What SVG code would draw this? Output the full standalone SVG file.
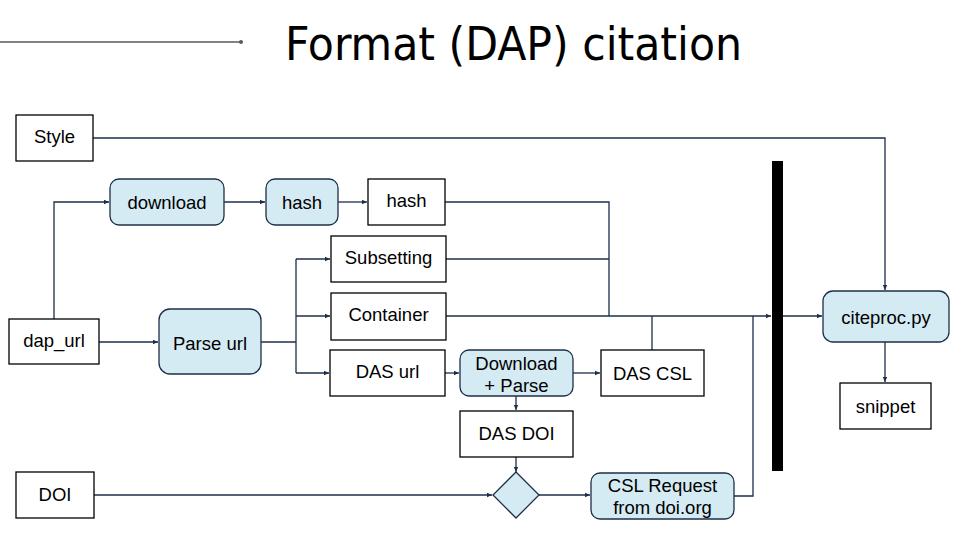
<svg xmlns="http://www.w3.org/2000/svg" width="960" height="540" viewBox="0 0 960 540">
<defs>
<marker id="ah" markerWidth="6" markerHeight="6" refX="5" refY="3" orient="auto" markerUnits="userSpaceOnUse">
<path d="M0,0.8 L5,3 L0,5.2 Z" fill="#1c2f4a"/>
</marker>
<style>
.box{fill:#ffffff;stroke:#000000;stroke-width:1.3}
.proc{fill:#d5ebf3;stroke:#1c2f4a;stroke-width:1.3}
.t{font-family:"Liberation Sans",Arial,sans-serif;font-size:18.5px;fill:#000000;text-anchor:middle;dominant-baseline:central}
.c{fill:none;stroke:#1c2f4a;stroke-width:1.3}
.a{marker-end:url(#ah)}
</style>
</defs>
<rect width="960" height="540" fill="#ffffff"/>
<g id="title">
<line x1="0" y1="42" x2="241" y2="42" stroke="#595959" stroke-width="1.3"/>
<circle cx="241" cy="42" r="2" fill="#595959"/>
<text x="285" y="60" font-family="'DejaVu Sans Condensed','DejaVu Sans',sans-serif" font-stretch="condensed" font-size="47" fill="#000000" textLength="457" lengthAdjust="spacingAndGlyphs">Format (DAP) citation</text>
</g>
<g id="connectors">
<path class="c a" d="M93,138 H885 V290"/>
<path class="c a" d="M54,319 V202 H109"/>
<path class="c a" d="M224,202 H265"/>
<path class="c a" d="M338,202 H367"/>
<path class="c" d="M445,202 H609 V316"/>
<path class="c" d="M446,259 H609"/>
<path class="c a" d="M446,316 H771"/>
<path class="c" d="M652,350 V316"/>
<path class="c" d="M734,496 H753 V316"/>
<path class="c a" d="M783,316 H822"/>
<path class="c a" d="M885,342 V382"/>
<path class="c a" d="M99,342 H158"/>
<path class="c" d="M261,342 H296"/>
<path class="c" d="M296,259 V373"/>
<path class="c a" d="M296,259 H330"/>
<path class="c a" d="M296,316 H330"/>
<path class="c a" d="M296,373 H329"/>
<path class="c a" d="M445,373 H459"/>
<path class="c a" d="M573,373 H600"/>
<path class="c a" d="M516,396 V410"/>
<path class="c a" d="M516,457 V472"/>
<path class="c a" d="M94,495 H492"/>
<path class="c a" d="M539,495 H590"/>
</g>
<g id="style"><rect class="box" x="16" y="115" width="77" height="46"/><text class="t" x="54.5" y="136">Style</text></g>
<g id="download"><rect class="proc" x="110" y="179" width="114" height="46" rx="9"/><text class="t" x="167" y="202">download</text></g>
<g id="hash1"><rect class="proc" x="266" y="179" width="72" height="46" rx="9"/><text class="t" x="302" y="202">hash</text></g>
<g id="hash2"><rect class="box" x="368" y="179" width="77" height="46"/><text class="t" x="406.5" y="200">hash</text></g>
<g id="subsetting"><rect class="box" x="331" y="236" width="115" height="46"/><text class="t" x="388.5" y="257">Subsetting</text></g>
<g id="container"><rect class="box" x="331" y="293" width="115" height="47"/><text class="t" x="388.5" y="314">Container</text></g>
<g id="dasurl"><rect class="box" x="330" y="350" width="115" height="46"/><text class="t" x="387.5" y="371">DAS url</text></g>
<g id="downloadparse"><rect class="proc" x="460" y="350" width="113" height="46" rx="9"/><text class="t" x="516.5" y="363">Download</text><text class="t" x="516.5" y="385">+ Parse</text></g>
<g id="dascsl"><rect class="box" x="601" y="350" width="103" height="46"/><text class="t" x="652.5" y="373">DAS CSL</text></g>
<g id="dasdoi"><rect class="box" x="460" y="411" width="113" height="46"/><text class="t" x="516.5" y="433">DAS DOI</text></g>
<g id="decision"><path class="proc" d="M516,472 L539,495 L516,518 L493,495 Z"/></g>
<g id="cslrequest"><rect class="proc" x="591" y="473" width="143" height="46" rx="9"/><text class="t" x="662.5" y="485">CSL Request</text><text class="t" x="662.5" y="507">from doi.org</text></g>
<g id="dapurl"><rect class="box" x="9" y="319" width="90" height="45"/><text class="t" x="54" y="340">dap_url</text></g>
<g id="parseurl"><rect class="proc" x="159" y="309" width="102" height="65" rx="11"/><text class="t" x="210" y="343">Parse url</text></g>
<g id="doi"><rect class="box" x="16" y="472" width="78" height="46"/><text class="t" x="55" y="494">DOI</text></g>
<g id="joinbar"><rect x="772" y="161" width="11" height="310" fill="#000000"/></g>
<g id="citeproc"><rect class="proc" x="823" y="291" width="126" height="51" rx="10"/><text class="t" x="886" y="317">citeproc.py</text></g>
<g id="snippet"><rect class="box" x="840" y="383" width="91" height="46"/><text class="t" x="885.5" y="406">snippet</text></g>
</svg>
